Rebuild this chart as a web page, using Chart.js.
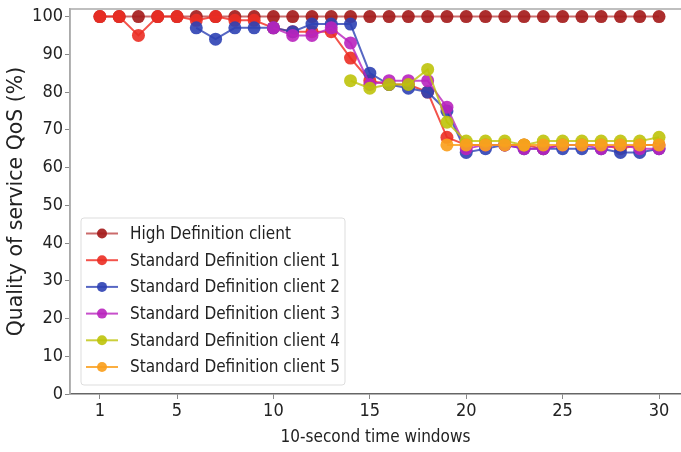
<!DOCTYPE html>
<html>
<head>
<meta charset="utf-8">
<script src="https://cdn.jsdelivr.net/npm/chart.js@4/dist/chart.umd.min.js"></script>
<style>
  html, body { margin: 0; padding: 0; background: #fff; }
  #wrap { width: 681px; height: 452px; }
</style>
</head>
<body>
<div id="wrap"><canvas id="chart" width="681" height="452"></canvas></div>
<script>
// 데이터
const windows = [1, 2, 3, 4, 5, 6, 7, 8, 9, 10, 11, 12, 13, 14, 15, 16, 17, 18, 19, 20, 21, 22, 23, 24, 25, 26, 27, 28, 29, 30];
const hdClient = [100, 100, 100, 100, 100, 100, 100, 100, 100, 100, 100, 100, 100, 100, 100, 100, 100, 100, 100, 100, 100, 100, 100, 100, 100, 100, 100, 100, 100, 100];
const sdClient1 = [100, 100, 95, 100, 100, 99, 100, 99, 99, 97, 96, 96, 96, 89, 83, 82, 82, 80, 68, 66, 66, 66, 66, 65, 66, 66, 66, 65, 66, 66];
const sdClient2 = [null, null, null, null, null, 97, 94, 97, 97, 97, 96, 98, 98, 98, 85, 82, 81, 80, 75, 64, 65, 66, 65, 65, 65, 65, 65, 64, 64, 65];
const sdClient3 = [null, null, null, null, null, null, null, null, null, 97, 95, 95, 97, 93, 82, 83, 83, 83, 76, 65, 66, 66, 65, 65, 66, 66, 65, 66, 65, 65];
const sdClient4 = [null, null, null, null, null, null, null, null, null, null, null, null, null, 83, 81, 82, 82, 86, 72, 67, 67, 67, 66, 67, 67, 67, 67, 67, 67, 68];
const sdClient5 = [null, null, null, null, null, null, null, null, null, null, null, null, null, null, null, null, null, null, 66, 66, 66, 66, 66, 66, 66, 66, 66, 66, 66, 66];
const xTicks = [1, 5, 10, 15, 20, 25, 30];
const yTicks = [0, 10, 20, 30, 40, 50, 60, 70, 80, 90, 100];

const FONT = "'DejaVu Sans Condensed', 'DejaVu Sans', sans-serif";
const FONT_V = "'DejaVu Sans', sans-serif";

function series(label, values, lineColor, pointColor, order) {
    return {
        label: label,
        data: windows.map((w, i) => ({ x: w, y: values[i] })),
        borderColor: lineColor,
        backgroundColor: pointColor,
        pointBackgroundColor: pointColor,
        pointBorderColor: pointColor,
        pointRadius: 6.5,
        pointBorderWidth: 0,
        borderWidth: 2,
        spanGaps: false,
        order: order, // 나중 시리즈가 위에 그려지도록
    };
}

const datasets = [
    series("High Definition client", hdClient, "rgba(190, 70, 70, 0.8)", "rgba(165, 28, 28, 0.92)", 5),
    series("Standard Definition client 1", sdClient1, "rgba(240, 40, 30, 0.8)", "rgba(235, 45, 35, 0.9)", 4),
    series("Standard Definition client 2", sdClient2, "rgba(45, 65, 180, 0.8)", "rgba(45, 65, 180, 0.9)", 3),
    series("Standard Definition client 3", sdClient3, "rgba(185, 35, 190, 0.8)", "rgba(185, 35, 190, 0.9)", 2),
    series("Standard Definition client 4", sdClient4, "rgba(190, 195, 10, 0.8)", "rgba(190, 195, 10, 0.9)", 1),
    series("Standard Definition client 5", sdClient5, "rgba(250, 160, 30, 0.85)", "rgba(250, 160, 30, 0.92)", 0),
];

// 범례 + 위/왼쪽 테두리
const frameLegend = {
    id: "frameLegend",
    afterDraw(chart) {
        const ctx = chart.ctx;
        const a = chart.chartArea;
        ctx.save();
        ctx.strokeStyle = "#aaaaaa";
        ctx.lineWidth = 1.5;
        ctx.beginPath();
        ctx.moveTo(a.left, a.bottom);
        ctx.lineTo(a.left, a.top);
        ctx.lineTo(a.right + 2, a.top);
        ctx.stroke();

        const bx = 81, by = 218, bw = 264, bh = 167;
        ctx.fillStyle = "rgba(255,255,255,0.85)";
        ctx.strokeStyle = "#dddddd";
        ctx.lineWidth = 1;
        ctx.beginPath();
        ctx.roundRect(bx, by, bw, bh, 3);
        ctx.fill();
        ctx.stroke();

        ctx.font = "17px " + FONT;
        ctx.textBaseline = "middle";
        chart.data.datasets.forEach((ds, i) => {
            const y = 233.5 + i * 26.7;
            ctx.strokeStyle = ds.borderColor;
            ctx.lineWidth = 2;
            ctx.beginPath();
            ctx.moveTo(86, y);
            ctx.lineTo(118, y);
            ctx.stroke();
            ctx.fillStyle = ds.pointBackgroundColor;
            ctx.beginPath();
            ctx.arc(102, y, 5, 0, Math.PI * 2);
            ctx.fill();
            ctx.fillStyle = "#222";
            ctx.fillText(ds.label, 130, y + 1);
        });
        ctx.restore();
    },
};

new Chart(document.getElementById("chart"), {
    type: "line",
    data: { datasets: datasets },
    options: {
        responsive: false,
        animation: false,
        layout: { autoPadding: false, padding: { left: 0, right: 0, top: 9, bottom: 0 } },
        plugins: { legend: { display: false }, tooltip: { enabled: false } },
        scales: {
            x: {
                type: "linear",
                min: -0.55,
                max: 31.14,
                afterBuildTicks: (s) => { s.ticks = xTicks.map(v => ({ value: v })); },
                afterFit: (s) => { s.height = 58; s.paddingLeft = 0; s.paddingRight = 0; },
                grid: { drawOnChartArea: false, tickLength: 5, color: "#888" },
                border: { color: "#666", width: 1.5 },
                ticks: { font: { family: FONT, size: 18 }, color: "#222", padding: 2, maxRotation: 0 },
                title: { display: true, text: "10-second time windows", font: { family: FONT, size: 17 }, color: "#222", padding: { top: 2 } },
            },
            y: {
                min: 0,
                max: 102,
                afterBuildTicks: (s) => { s.ticks = yTicks.map(v => ({ value: v })); },
                afterFit: (s) => { s.width = 70; s.paddingTop = 0; s.paddingBottom = 0; },
                grid: { drawOnChartArea: false, tickLength: 5, color: "#888" },
                border: { color: "#aaa", width: 1.5 },
                ticks: { font: { family: FONT, size: 18 }, color: "#222", padding: 2 },
                title: { display: true, text: "Quality of service QoS (%)", font: { family: FONT_V, size: 20.5 }, color: "#222", padding: { top: 4, bottom: 0 } },
            },
        },
    },
    plugins: [frameLegend],
});
</script>
</body>
</html>
